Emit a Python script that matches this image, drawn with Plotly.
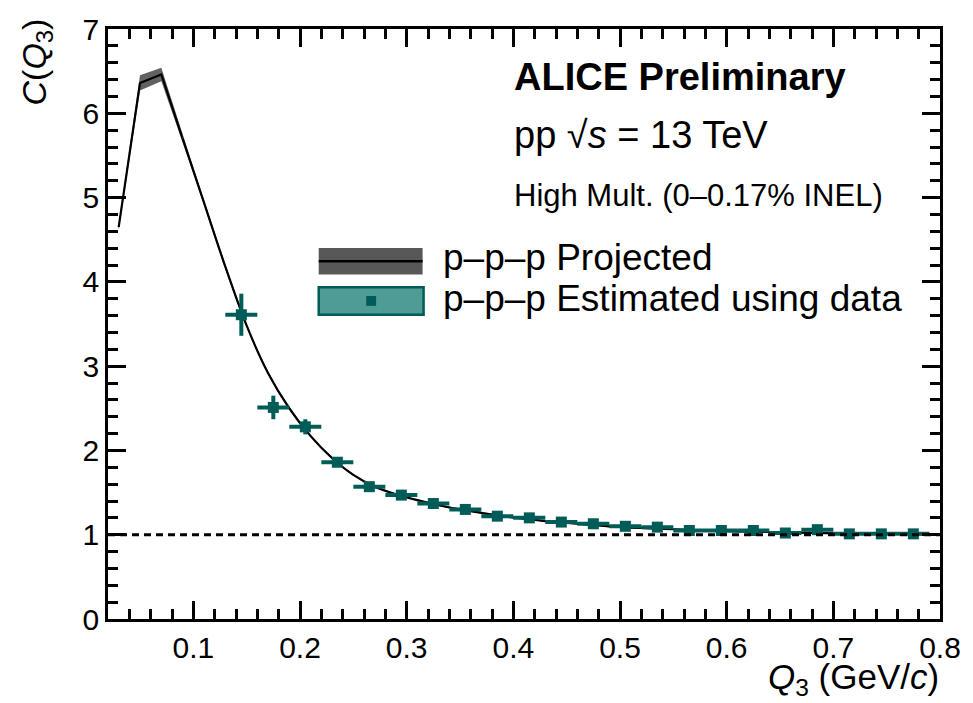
import plotly.graph_objects as go

# Projected curve (p-p-p)
proj_x = [0.03, 0.05, 0.07, 0.09, 0.11, 0.13, 0.15, 0.17, 0.19, 0.21, 0.23, 0.25, 0.27, 0.29,
          0.31, 0.33, 0.35, 0.37, 0.39, 0.41, 0.43, 0.45, 0.47, 0.49, 0.51, 0.53, 0.55, 0.57,
          0.59, 0.61, 0.63, 0.65, 0.67, 0.69, 0.71, 0.73, 0.75, 0.77, 0.79]
proj_y = [4.65, 6.36, 6.46, 5.70, 4.94, 4.18, 3.48, 2.92, 2.50, 2.17, 1.91, 1.71, 1.57, 1.48,
          1.41, 1.35, 1.30, 1.26, 1.22, 1.19, 1.16, 1.14, 1.12, 1.10, 1.085, 1.075, 1.065, 1.055,
          1.045, 1.04, 1.035, 1.03, 1.025, 1.02, 1.015, 1.012, 1.01, 1.008, 1.005]
proj_err = [0.04, 0.09, 0.08, 0.05, 0.03, 0.03, 0.02, 0.02, 0.02, 0.015, 0.015, 0.01, 0.01, 0.01,
            0.01, 0.01, 0.01, 0.01, 0.01, 0.01, 0.01, 0.01, 0.01, 0.01, 0.01, 0.01, 0.01, 0.01,
            0.01, 0.01, 0.01, 0.01, 0.01, 0.01, 0.01, 0.01, 0.01, 0.01, 0.01]

# Estimated using data
est_x = [0.145, 0.175, 0.205, 0.235, 0.265, 0.295, 0.325, 0.355, 0.385, 0.415, 0.445,
         0.475, 0.505, 0.535, 0.565, 0.595, 0.625, 0.655, 0.685, 0.715, 0.745, 0.775]
est_y = [3.61, 2.51, 2.28, 1.86, 1.57, 1.47, 1.37, 1.30, 1.22, 1.20, 1.15,
         1.13, 1.10, 1.09, 1.05, 1.05, 1.05, 1.02, 1.06, 1.01, 1.01, 1.01]
est_yerr = [0.25, 0.14, 0.09, 0.05, 0.04, 0.03, 0.03, 0.03, 0.02, 0.02, 0.02,
            0.02, 0.02, 0.02, 0.02, 0.02, 0.02, 0.02, 0.02, 0.02, 0.02, 0.02]
est_xerr = [0.015] * len(est_x)

x_ticks = [0.1, 0.2, 0.3, 0.4, 0.5, 0.6, 0.7, 0.8]
y_ticks = [0, 1, 2, 3, 4, 5, 6, 7]

TEAL = "#005c57"
TEAL_FILL = "#4f9b95"
FONT = "Liberation Sans, Arial, sans-serif"
BAND = "rgba(70,70,70,0.85)"

upper = [y + e for y, e in zip(proj_y, proj_err)]
lower = [y - e for y, e in zip(proj_y, proj_err)]

fig = go.Figure()
# peak region: straight segments; tail: smooth
SPLIT = 3
for sl, shape in ((slice(0, SPLIT + 1), "linear"), (slice(SPLIT, None), "spline")):
    xs, up, lo, ys = proj_x[sl], upper[sl], lower[sl], proj_y[sl]
    fig.add_trace(go.Scatter(x=xs, y=lo, mode="lines", line=dict(width=0, shape=shape),
                             hoverinfo="skip", showlegend=False))
    fig.add_trace(go.Scatter(x=xs, y=up, mode="lines", fill="tonexty", fillcolor=BAND,
                             line=dict(width=0, shape=shape), hoverinfo="skip", showlegend=False))
    fig.add_trace(go.Scatter(x=xs, y=ys, mode="lines",
                             line=dict(color="black", width=2.2, shape=shape, smoothing=0.8),
                             showlegend=False))

fig.add_trace(go.Scatter(x=est_x, y=est_y, mode="markers",
                         marker=dict(symbol="square", size=11, color=TEAL),
                         error_x=dict(type="data", array=est_xerr, color=TEAL, thickness=4, width=0),
                         error_y=dict(type="data", array=est_yerr, color=TEAL, thickness=4, width=0),
                         showlegend=False))

# reference line at 1
fig.add_shape(type="line", xref="paper", x0=0, x1=1, yref="y", y0=1, y1=1,
              line=dict(color="black", width=3, dash="7px,5px"))

L, R, T, B = 108, 949, 18, 619
W, H = R - L, B - T
def px(x):
    return (x - L) / W
def py(y):
    return (B - y) / H

# legend (manual)
fig.add_shape(type="rect", xref="paper", yref="paper", x0=px(321), x1=px(426), y0=py(268), y1=py(241),
              fillcolor="rgba(70,70,70,0.9)", line=dict(width=0), layer="above")
fig.add_shape(type="line", xref="paper", yref="paper", x0=px(321), x1=px(426), y0=py(254.5), y1=py(254.5),
              line=dict(color="black", width=2.5), layer="above")
fig.add_shape(type="rect", xref="paper", yref="paper", x0=px(321), x1=px(427), y0=py(309), y1=py(281),
              fillcolor=TEAL_FILL, line=dict(color=TEAL, width=2.5), layer="above")
fig.add_shape(type="rect", xref="paper", yref="paper", x0=px(369), x1=px(379), y0=py(300), y1=py(290),
              fillcolor=TEAL, line=dict(width=0), layer="above")

def ann(text, x, y, size, xanchor="left"):
    fig.add_annotation(xref="paper", yref="paper", x=px(x), y=py(y), text=text, showarrow=False,
                       xanchor=xanchor, yanchor="middle",
                       font=dict(family=FONT, size=size, color="black"))

ann("p–p–p Projected", 445, 251, 37)
ann("p–p–p Estimated using data", 445, 293, 37)
ann("<b>ALICE Preliminary</b>", 516, 67, 38)
ann("pp √<i>s</i> = 13 TeV", 516, 126, 38)
ann("High Mult. (0–0.17% INEL)", 516, 188, 31)
ann("<i>Q</i><sub>3</sub> (GeV/<i>c</i>)", 950, 680, 35, xanchor="right")
fig.add_annotation(xref="paper", yref="paper", x=px(36), y=py(5), text="<i>C</i>(<i>Q</i><sub>3</sub>)",
                   showarrow=False, xanchor="center", yanchor="top", textangle=-90,
                   font=dict(family=FONT, size=34, color="black"))

axis_common = dict(showgrid=False, zeroline=False, showline=True, linecolor="black", linewidth=2.5,
                   mirror="allticks", ticks="inside", ticklen=18, tickwidth=2.5, tickcolor="black",
                   tickfont=dict(family=FONT, size=30, color="black"))
fig.update_xaxes(range=[0.02, 0.8], tickvals=x_ticks, ticktext=[f"{v:.1f}" for v in x_ticks],
                 minor=dict(ticks="inside", ticklen=10, tickwidth=2.5, tickcolor="black", dtick=0.02, tick0=0),
                 **axis_common)
fig.update_yaxes(range=[0, 7], tickvals=y_ticks, ticktext=[str(v) for v in y_ticks],
                 minor=dict(ticks="inside", ticklen=10, tickwidth=2.5, tickcolor="black", dtick=0.2, tick0=0),
                 **axis_common)
fig.update_layout(width=973, height=703, margin=dict(l=L, r=973 - R, t=T, b=703 - B),
                  paper_bgcolor="white", plot_bgcolor="white", showlegend=False,
                  font=dict(family=FONT, color="black"))
fig.write_html("out.html")
